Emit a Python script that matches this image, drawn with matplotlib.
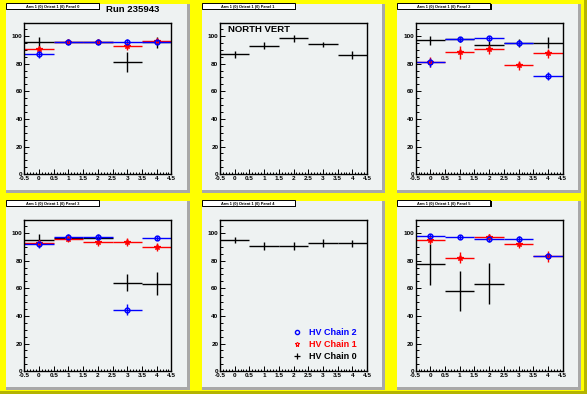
import numpy as np
import matplotlib
matplotlib.use("Agg")
import matplotlib.pyplot as plt
from matplotlib.patches import Rectangle
from matplotlib.lines import Line2D

plt.rcParams["font.family"] = ["Liberation Sans", "DejaVu Sans"]
plt.rcParams["font.weight"] = "bold"

# bin centres of every panel
bins = [0, 1, 2, 3, 4]
xtick_labels = ["-0.5", "0", "0.5", "1", "1.5", "2", "2.5", "3", "3.5", "4", "4.5"]
ytick_labels = ["0", "20", "40", "60", "80", "100"]

panel_titles = ["Arm 1 (0) Orient 1 (0) Panel 0", "Arm 1 (0) Orient 1 (0) Panel 1",
                "Arm 1 (0) Orient 1 (0) Panel 2", "Arm 1 (0) Orient 1 (0) Panel 3",
                "Arm 1 (0) Orient 1 (0) Panel 4", "Arm 1 (0) Orient 1 (0) Panel 5"]

nan = np.nan
# HV Chain 0 (black)
chain0 = [[95.3, 96.0, 96.0, 81.0, 95.3],
          [86.6, 93.1, 98.2, 93.9, 86.2],
          [96.8, 97.5, 93.6, 95.0, 95.1],
          [94.9, 96.5, 96.5, 64.1, 63.4],
          [94.9, 90.5, 90.5, 92.7, 92.7],
          [77.3, 58.3, 63.4, nan, nan]]
chain0_err = [[4.0, 1.5, 1.5, 7.2, 3.9],
              [2.8, 2.4, 2.2, 2.0, 3.0],
              [3.0, 1.5, 3.0, 3.0, 4.0],
              [4.0, 2.0, 2.0, 6.0, 8.2],
              [2.5, 3.0, 3.0, 3.0, 2.5],
              [15.0, 14.5, 15.0, nan, nan]]
# HV Chain 1 (red)
chain1 = [[90.5, 96.0, 96.0, 92.8, 96.5],
          None,
          [81.3, 88.1, 90.3, 78.7, 87.4],
          [92.4, 95.9, 93.4, 93.4, 89.8],
          None,
          [94.9, 82.0, 97.1, 92.0, 83.2]]
chain1_err = [[2.5, 1.5, 1.5, 2.6, 1.5],
              None,
              [3.5, 4.5, 3.0, 3.5, 3.0],
              [2.5, 2.5, 3.0, 3.0, 3.0],
              None,
              [3.0, 4.0, 2.0, 3.0, 4.0]]
# HV Chain 2 (blue)
chain2 = [[86.6, 95.3, 95.3, 96.0, 96.0],
          None,
          [80.9, 97.5, 98.2, 95.1, 70.8],
          [92.2, 97.1, 97.1, 44.4, 96.3],
          None,
          [97.8, 97.1, 95.6, 95.6, 83.2]]
chain2_err = [[2.5, 1.5, 1.5, 1.5, 1.5],
              None,
              [3.0, 1.5, 1.5, 2.0, 3.0],
              [3.0, 2.0, 2.0, 4.0, 1.5],
              None,
              [1.5, 1.5, 2.0, 2.0, 2.0]]

W, H = 587, 394
fig = plt.figure(figsize=(W / 100, H / 100), dpi=100)
fig.patch.set_facecolor("#ffff00")

pad_col = "#eef2f2"
shadow = "#a8a8a8"


def frect(x, y, w, h, **kw):
    # rectangle in pixel units measured from the top-left corner
    r = Rectangle((x / W, 1 - (y + h) / H), w / W, h / H,
                  transform=fig.transFigure, **kw)
    fig.add_artist(r)
    return r


# canvas bevel (dark right / bottom edge)
frect(W - 3, 0, 3, H, facecolor="#b4b400", edgecolor="none", zorder=-3)
frect(0, H - 3, W, 3, facecolor="#b4b400", edgecolor="none", zorder=-3)

axes = []
for k in range(6):
    col, row = k % 3, k // 3
    px1 = (col / 3 + 0.01) * W
    px2 = ((col + 1) / 3 - 0.01) * W
    py1 = (row / 2 + 0.01) * H
    py2 = ((row + 1) / 2 - 0.01) * H
    pw, ph = px2 - px1, py2 - py1
    # pad with shadow
    frect(px1, py1, pw, ph, facecolor=shadow, edgecolor="none", zorder=-2)
    frect(px1, py1, pw - 3, ph - 3, facecolor=pad_col, edgecolor="none", zorder=-1)
    # title box
    frect(px1 + 1.5, py1 + 0.5, 93, 6, facecolor="black", edgecolor="none", zorder=2)
    frect(px1, py1 - 0.5, 93, 6, facecolor="white", edgecolor="black", linewidth=0.7, zorder=3)
    fig.text((px1 + 46.5) / W, 1 - (py1 + 2.6) / H, panel_titles[k], fontsize=2.8,
             ha="center", va="center", zorder=4)

    ax = fig.add_axes([(px1 + 0.1 * pw) / W, 1 - (py1 + 0.9 * ph) / H,
                       0.8 * pw / W, 0.8 * ph / H])
    ax.set_facecolor(pad_col)
    axes.append(ax)

for k, ax in enumerate(axes):
    ax.errorbar(bins, chain0[k], xerr=0.5, yerr=chain0_err[k], fmt="none",
                ecolor="black", elinewidth=1.0, capsize=0)
    if chain1[k] is not None:
        ax.errorbar(bins, chain1[k], xerr=0.5, yerr=chain1_err[k], fmt="*",
                    color="red", ecolor="red", elinewidth=1.0, capsize=0,
                    markersize=4, mfc="none", mew=0.9)
    if chain2[k] is not None:
        ax.errorbar(bins, chain2[k], xerr=0.5, yerr=chain2_err[k], fmt="o",
                    color="blue", ecolor="blue", elinewidth=1.0, capsize=0,
                    markersize=3.4, mfc="none", mew=1.1)

    ax.set_xlim(-0.5, 4.5)
    ax.set_ylim(0, 109.5)
    ax.set_xticks(np.arange(-0.5, 4.51, 0.5))
    ax.set_xticklabels(xtick_labels)
    ax.set_xticks(np.arange(-0.5, 4.51, 0.1), minor=True)
    ax.set_yticks(np.arange(0, 101, 20))
    ax.set_yticklabels(ytick_labels)
    ax.set_yticks(np.arange(0, 106, 5), minor=True)
    ax.tick_params(which="both", direction="in", labelsize=4.6, width=0.7,
                   top=False, right=False, pad=1.2)
    ax.tick_params(which="major", length=3.5)
    ax.tick_params(which="minor", length=1.8)
    for lab in ax.get_xticklabels() + ax.get_yticklabels():
        lab.set_fontweight("bold")
    for sp in ax.spines.values():
        sp.set_linewidth(1.0)

fig.text(106 / W, 1 - 12.5 / H, "Run 235943", fontsize=6.8, fontweight="bold",
         ha="left", va="baseline")
axes[1].text(0.055, 0.94, "NORTH VERT", transform=axes[1].transAxes,
             fontsize=6.8, fontweight="bold", ha="left", va="baseline")

handles = [Line2D([], [], ls="none", marker="o", color="blue", mfc="none",
                  markersize=3.0, mew=1.0),
           Line2D([], [], ls="none", marker="*", color="red", mfc="none",
                  markersize=3.6, mew=0.8),
           Line2D([], [], ls="none", marker="+", color="black",
                  markersize=4, mew=0.9)]
axes[4].legend(handles, ["HV Chain 2", "HV Chain 1", "HV Chain 0"],
               loc="lower right", bbox_to_anchor=(0.96, 0.035), frameon=False,
               prop={"size": 6.5, "weight": "bold"},
               labelcolor=["blue", "red", "black"], handlelength=0.6,
               handletextpad=1.0, labelspacing=0.35, borderpad=0)

fig.savefig("out.png", dpi=100, facecolor=fig.get_facecolor())
